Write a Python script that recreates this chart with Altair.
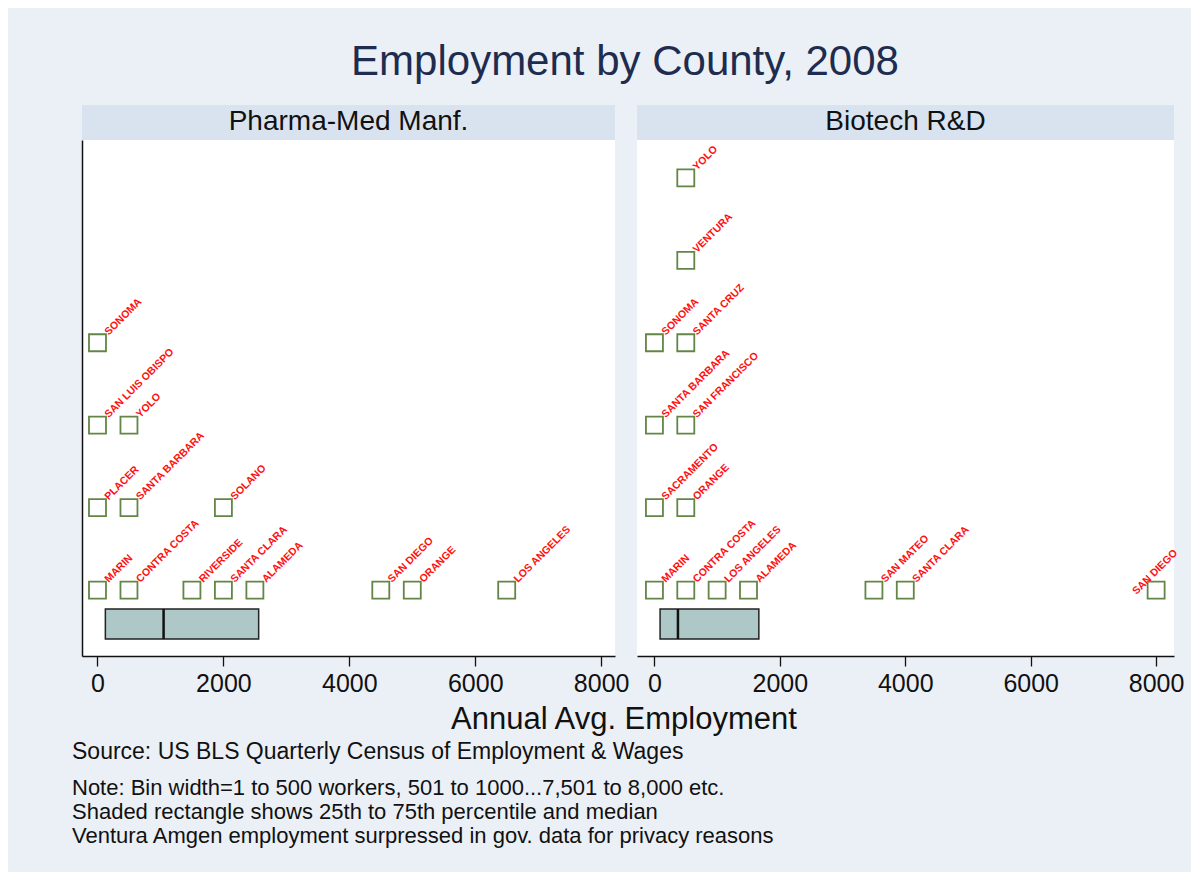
import altair as alt
import pandas as pd

# ---------------- data ----------------
pharma_county = ["MARIN", "PLACER", "SAN LUIS OBISPO", "SONOMA",
                 "CONTRA COSTA", "SANTA BARBARA", "YOLO",
                 "RIVERSIDE", "SANTA CLARA", "SOLANO", "ALAMEDA",
                 "SAN DIEGO", "ORANGE", "LOS ANGELES"]
pharma_bin = [0, 0, 0, 0, 500, 500, 500, 1500, 2000, 2000, 2500, 4500, 5000, 6500]
pharma_level = [1, 2, 3, 4, 1, 2, 3, 1, 1, 2, 1, 1, 1, 1]
pharma_box = [125, 1050, 2560]   # 25th pct, median, 75th pct

biotech_county = ["MARIN", "SACRAMENTO", "SANTA BARBARA", "SONOMA",
                  "CONTRA COSTA", "ORANGE", "SAN FRANCISCO", "SANTA CRUZ",
                  "VENTURA", "YOLO", "LOS ANGELES", "ALAMEDA",
                  "SAN MATEO", "SANTA CLARA", "SAN DIEGO"]
biotech_bin = [0, 0, 0, 0, 500, 500, 500, 500, 500, 500, 1000, 1500, 3500, 4000, 8000]
biotech_level = [1, 2, 3, 4, 1, 2, 3, 4, 5, 6, 1, 1, 1, 1, 1]
biotech_box = [90, 375, 1665]

panel_titles = ["Pharma-Med Manf.", "Biotech R&D"]
x_ticks = [0, 2000, 4000, 6000, 8000]
main_title = "Employment by County, 2008"
x_title = "Annual Avg. Employment"
notes = ["Source: US BLS Quarterly Census of Employment & Wages",
         "Note: Bin width=1 to 500 workers, 501 to 1000...7,501 to 8,000 etc.",
         "Shaded rectangle shows 25th to 75th percentile and median",
         "Ventura Amgen employment surpressed in gov. data for privacy reasons"]

# ---------------- styling ----------------
FONT = "Liberation Sans"
BG = "#EBF0F6"
HEAD = "#D9E3EF"
BOXFILL = "#AEC7C7"
GREEN = "#638546"
RED = "#FF1010"
H = 516

one = pd.DataFrame({"k": [0]})


def panel(counties, bins, levels, box, width, domain, header, left_axis, extra_layers):
    df = pd.DataFrame({"county": counties, "bin": bins, "level": levels})
    bdf = pd.DataFrame({"q1": [box[0]], "med": [box[1]], "q3": [box[2]]})
    xs = alt.Scale(domain=domain, nice=False, zero=False)
    xaxis = alt.Axis(values=x_ticks, format="d", title=None, grid=False,
                     tickSize=10, tickColor="#111", tickWidth=1.3,
                     domainColor="#111", domainWidth=1.5,
                     labelFont=FONT, labelFontSize=25, labelColor="#111",
                     labelPadding=5, zindex=1)
    ys = alt.Scale(domain=[0.2, 6.46], nice=False, zero=False)
    if left_axis:
        yaxis = alt.Axis(labels=False, ticks=False, grid=False, title=None,
                         domainColor="#111", domainWidth=1.5, zindex=1)
    else:
        yaxis = None

    head_rect = alt.Chart(one).mark_rect(fill=HEAD).encode(
        x=alt.value(0), x2=alt.value(width), y=alt.value(-35), y2=alt.value(0))
    head_text = alt.Chart(one).mark_text(
        text=header, font=FONT, fontSize=28, color="#111",
        align="center", baseline="middle").encode(
        x=alt.value(width / 2), y=alt.value(-18))
    white = alt.Chart(one).mark_rect(fill="white").encode(
        x=alt.value(0), x2=alt.value(width), y=alt.value(0), y2=alt.value(H))
    boxr = alt.Chart(bdf).mark_rect(fill=BOXFILL, stroke="#222", strokeWidth=1.5).encode(
        x=alt.X("q1:Q", scale=xs, axis=xaxis), x2="q3:Q",
        y=alt.value(469), y2=alt.value(499))
    med = alt.Chart(bdf).mark_rule(color="#111", strokeWidth=2.5).encode(
        x=alt.X("med:Q", scale=xs, axis=xaxis), y=alt.value(469), y2=alt.value(499))
    pts = alt.Chart(df).mark_point(shape="square", size=289, filled=False,
                                   color=GREEN, strokeWidth=1.8, opacity=1).encode(
        x=alt.X("bin:Q", scale=xs, axis=xaxis),
        y=alt.Y("level:Q", scale=ys, axis=yaxis))
    # labels at upper-right of each square; the one at the right edge sits to its left
    labs = alt.Chart(df).transform_filter("datum.bin < 7900").mark_text(
        align="left", baseline="middle", angle=315, radius=13, theta=0.785,
        font=FONT, fontSize=10.5, fontWeight="bold", color=RED).encode(
        x=alt.X("bin:Q", scale=xs, axis=xaxis),
        y=alt.Y("level:Q", scale=ys, axis=yaxis),
        text="county:N")
    labs_edge = alt.Chart(df).transform_filter("datum.bin >= 7900").mark_text(
        align="left", baseline="middle", angle=315, radius=22, theta=4.58,
        font=FONT, fontSize=10.5, fontWeight="bold", color=RED).encode(
        x=alt.X("bin:Q", scale=xs, axis=xaxis),
        y=alt.Y("level:Q", scale=ys, axis=yaxis),
        text="county:N")
    layers = extra_layers + [head_rect, head_text, white, boxr, med, pts, labs, labs_edge]
    return alt.layer(*layers).properties(width=width, height=H)


W1, W2 = 533, 537

bg = alt.Chart(one).mark_rect(fill=BG).encode(
    x=alt.value(-74), x2=alt.value(1109), y=alt.value(-132), y2=alt.value(732))
title_t = alt.Chart(one).mark_text(text=main_title, font=FONT, fontSize=42,
                                   color="#1E2D4F", align="center",
                                   baseline="middle").encode(
    x=alt.value(543), y=alt.value(-78))
xtitle_t = alt.Chart(one).mark_text(text=x_title, font=FONT, fontSize=31,
                                    color="#111", align="center",
                                    baseline="middle").encode(
    x=alt.value(542), y=alt.value(580))
note_y = [612, 648, 672, 696]
note_size = [23, 22, 22, 22]
note_layers = [alt.Chart(one).mark_text(text=t, font=FONT, fontSize=fs, color="#111",
                                        align="left", baseline="middle").encode(
    x=alt.value(-10), y=alt.value(yy)) for t, yy, fs in zip(notes, note_y, note_size)]

left = panel(pharma_county, pharma_bin, pharma_level, pharma_box, W1,
             [-246, 8220], panel_titles[0], True,
             [bg, title_t, xtitle_t] + note_layers)
right = panel(biotech_county, biotech_bin, biotech_level, biotech_box, W2,
              [-278, 8285], panel_titles[1], False, [])

chart = alt.hconcat(left, right, spacing=22, bounds="flush").properties(
    padding=0, background=BG
).configure_view(stroke=None, fill=None)

chart.save("out.html", embed_options={"renderer": "svg", "actions": False})
